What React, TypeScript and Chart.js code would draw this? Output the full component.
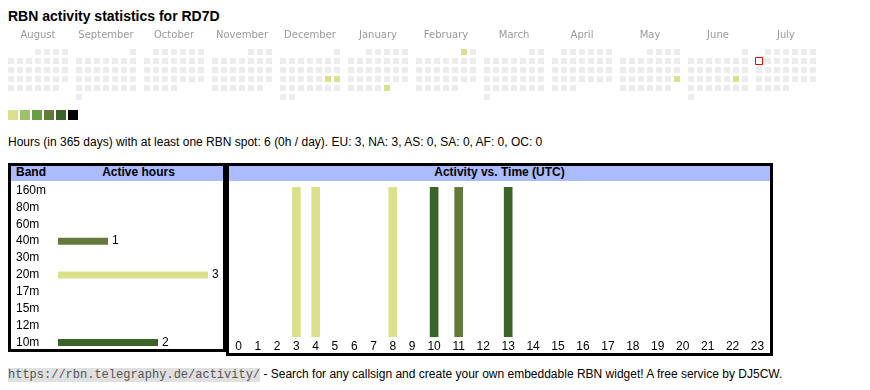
import React, { useEffect, useRef } from 'react';
import { Chart, registerables } from 'chart.js';

Chart.register(...registerables);

const FONT = '"Liberation Sans", Arial, Helvetica, sans-serif';
const MONO = '"Liberation Mono", "DejaVu Sans Mono", monospace';

// ---------- data ----------
const CALLSIGN = 'RD7D';
const MONTH_NAMES = ['August', 'September', 'October', 'November', 'December', 'January', 'February', 'March', 'April', 'May', 'June', 'July'];
const MONTH_YEARS = [2024, 2024, 2024, 2024, 2024, 2025, 2025, 2025, 2025, 2025, 2025, 2025];
const MONTH_NUMBERS = [8, 9, 10, 11, 12, 1, 2, 3, 4, 5, 6, 7];

const ACTIVE_DATES = ['2024-12-21', '2024-12-22', '2025-01-31', '2025-02-01', '2025-05-25', '2025-06-21'];
const ACTIVE_LEVELS = [1, 1, 1, 1, 1, 1];
const TODAY = '2025-07-07';
const LEVEL_COLORS = ['#dbe18b', '#9dc26a', '#6a9e45', '#647a3a', '#3b6428', '#000000'];
const EMPTY_COLOR = '#ececec';

const BANDS = ['160m', '80m', '60m', '40m', '30m', '20m', '17m', '15m', '12m', '10m'];
const BAND_HOURS = [0, 0, 0, 1, 0, 3, 0, 0, 0, 2];
const BAND_COLORS = ['#000000', '#3b6428', '#6a9e45', '#647a3a', '#9dc26a', '#dbe18b', '#6a9e45', '#9dc26a', '#647a3a', '#3b6428'];

const HOUR_LABELS = ['0', '1', '2', '3', '4', '5', '6', '7', '8', '9', '10', '11', '12', '13', '14', '15', '16', '17', '18', '19', '20', '21', '22', '23'];
const ACTIVE_HOURS = [3, 4, 8, 10, 11, 13];
const ACTIVE_HOUR_BANDS = ['20m', '20m', '20m', '10m', '40m', '10m'];

const DAYS = 365;
const TOTAL_HOURS = 6;
const CONTINENTS = ['EU', 'NA', 'AS', 'SA', 'AF', 'OC'];
const CONTINENT_HOURS = [3, 3, 0, 0, 0, 0];

// ---------- layout constants ----------
const CELL = 9;
const CELL_SIZE = 6;
const BLOCK = 68;

const statsText =
  `Hours (in ${DAYS} days) with at least one RBN spot: ${TOTAL_HOURS} (${Math.round(TOTAL_HOURS / DAYS)}h / day). ` +
  CONTINENTS.map((c, i) => `${c}: ${CONTINENT_HOURS[i]}`).join(', ');

const pad2 = (n: number) => String(n).padStart(2, '0');

function CalendarChart() {
  const ref = useRef<HTMLCanvasElement>(null);
  useEffect(() => {
    const W = 854, H = 74, AXIS_H = 21;
    const empty: any[] = [];
    const active: any[] = [];
    const activeColors: string[] = [];
    const today: any[] = [];
    MONTH_NAMES.forEach((_, m) => {
      const y = MONTH_YEARS[m];
      const mo = MONTH_NUMBERS[m];
      const first = (new Date(Date.UTC(y, mo - 1, 1)).getUTCDay() + 6) % 7;
      const days = new Date(Date.UTC(y, mo, 0)).getUTCDate();
      for (let d = 1; d <= days; d++) {
        const idx = first + d - 1;
        const pt = { x: m * BLOCK + (idx % 7) * CELL + CELL_SIZE / 2, y: Math.floor(idx / 7) * CELL + CELL_SIZE / 2 };
        const key = `${y}-${pad2(mo)}-${pad2(d)}`;
        const ai = ACTIVE_DATES.indexOf(key);
        if (key === TODAY) today.push(pt);
        else if (ai >= 0) {
          active.push(pt);
          activeColors.push(LEVEL_COLORS[ACTIVE_LEVELS[ai] - 1]);
        } else empty.push(pt);
      }
    });
    const blockCenter = (7 * CELL - (CELL - CELL_SIZE)) / 2;
    const chart = new Chart(ref.current!, {
      type: 'scatter',
      data: {
        datasets: [
          { data: today, pointStyle: 'rect', pointRadius: (CELL_SIZE + 1) / Math.SQRT2, pointHoverRadius: (CELL_SIZE + 1) / Math.SQRT2, backgroundColor: '#ffffff', borderColor: '#ff0000', borderWidth: 1 } as any,
          { data: active, pointStyle: 'rect', pointRadius: CELL_SIZE / Math.SQRT2, pointHoverRadius: CELL_SIZE / Math.SQRT2, backgroundColor: activeColors, borderWidth: 0 } as any,
          { data: empty, pointStyle: 'rect', pointRadius: CELL_SIZE / Math.SQRT2, pointHoverRadius: CELL_SIZE / Math.SQRT2, backgroundColor: EMPTY_COLOR, borderWidth: 0 } as any,
        ],
      },
      options: {
        responsive: false,
        animation: false,
        events: [],
        layout: { padding: 0, autoPadding: false },
        plugins: { legend: { display: false }, tooltip: { enabled: false } },
        scales: {
          x: {
            type: 'linear',
            position: 'top',
            min: 0,
            max: W,
            offset: false,
            grid: { display: false, drawTicks: false },
            border: { display: false },
            afterBuildTicks: (s: any) => {
              s.ticks = MONTH_NAMES.map((_, i) => ({ value: i * BLOCK + blockCenter }));
            },
            afterFit: (s: any) => {
              s.height = AXIS_H;
              s.paddingLeft = 0;
              s.paddingRight = 0;
            },
            ticks: {
              autoSkip: false,
              maxRotation: 0,
              padding: 8,
              color: '#999999',
              font: { family: '"DejaVu Sans", Verdana, sans-serif', size: 10 },
              callback: (_v: any, i: number) => MONTH_NAMES[i],
            },
          },
          y: { type: 'linear', display: false, min: 0, max: H - AXIS_H, reverse: true },
        },
      } as any,
    });
    return () => chart.destroy();
  }, []);
  return <canvas ref={ref} width={854} height={74} style={{ position: 'absolute', left: 8, top: 28 }} />;
}

const valueLabels = {
  id: 'valueLabels',
  afterDatasetsDraw(chart: any) {
    const ctx = chart.ctx;
    const meta = chart.getDatasetMeta(0);
    const vals = chart.data.datasets[0].data;
    ctx.save();
    ctx.font = `12px ${FONT}`;
    ctx.fillStyle = '#000';
    ctx.textBaseline = 'middle';
    ctx.textAlign = 'left';
    meta.data.forEach((bar: any, i: number) => {
      if (vals[i] > 0) ctx.fillText(String(vals[i]), bar.x + 4, bar.y);
    });
    ctx.restore();
  },
};

function BandChart() {
  const ref = useRef<HTMLCanvasElement>(null);
  useEffect(() => {
    const chart = new Chart(ref.current!, {
      type: 'bar',
      data: {
        labels: BANDS,
        datasets: [{ data: BAND_HOURS.map((v) => (v > 0 ? v : null)), backgroundColor: BAND_COLORS, barThickness: 7, inflateAmount: 0 } as any],
      },
      options: {
        indexAxis: 'y',
        responsive: false,
        animation: false,
        events: [],
        layout: { padding: { left: 5, right: 0, top: 0, bottom: 0 }, autoPadding: false },
        plugins: { legend: { display: false }, tooltip: { enabled: false } },
        scales: {
          x: { display: false, min: 0, max: Math.max(...BAND_HOURS) * 1.1 },
          y: {
            grid: { display: false, drawTicks: false },
            border: { display: false },
            afterFit: (s: any) => {
              s.width = 42;
              s.paddingTop = 0;
              s.paddingBottom = 0;
            },
            ticks: { autoSkip: false, crossAlign: 'far', padding: 0, color: '#000', font: { family: FONT, size: 12 } },
          },
        },
      } as any,
      plugins: [valueLabels],
    });
    return () => chart.destroy();
  }, []);
  return <canvas ref={ref} width={212} height={169} style={{ position: 'absolute', left: 0, top: 16 }} />;
}

function TimeChart() {
  const ref = useRef<HTMLCanvasElement>(null);
  useEffect(() => {
    const mctx = document.createElement('canvas').getContext('2d')!;
    mctx.font = `12px ${FONT}`;
    const widths = HOUR_LABELS.map((l) => mctx.measureText(l).width + 16);
    const centers: number[] = [];
    let acc = 0;
    widths.forEach((w) => {
      centers.push(acc + w / 2);
      acc += w;
    });
    const total = acc;
    const chart = new Chart(ref.current!, {
      type: 'bar',
      data: {
        datasets: [
          {
            data: ACTIVE_HOURS.map((h) => ({ x: centers[h], y: 1 })),
            backgroundColor: ACTIVE_HOUR_BANDS.map((b) => BAND_COLORS[BANDS.indexOf(b)]),
            barThickness: 8,
            grouped: false,
          } as any,
        ],
      },
      options: {
        responsive: false,
        animation: false,
        events: [],
        layout: { padding: { top: 6, left: 0, right: 0, bottom: 0 }, autoPadding: false },
        plugins: { legend: { display: false }, tooltip: { enabled: false } },
        scales: {
          x: {
            type: 'linear',
            offset: false,
            min: 0,
            max: total,
            grid: { display: false, drawTicks: false },
            border: { display: false },
            afterBuildTicks: (s: any) => {
              s.ticks = centers.map((c) => ({ value: c }));
            },
            afterFit: (s: any) => {
              s.height = 16;
              s.paddingLeft = 0;
              s.paddingRight = 0;
            },
            ticks: {
              autoSkip: false,
              maxRotation: 0,
              padding: 2,
              color: '#000',
              font: { family: FONT, size: 12 },
              callback: (_v: any, i: number) => HOUR_LABELS[i],
            },
          },
          y: { display: false, min: 0, max: 1 },
        },
      } as any,
    });
    return () => chart.destroy();
  }, []);
  return <canvas ref={ref} width={541} height={172} style={{ position: 'absolute', left: 0, top: 15 }} />;
}

const headerStyle: React.CSSProperties = {
  position: 'absolute',
  left: 0,
  top: 0,
  height: 15,
  background: '#aabbff',
};
const headerText: React.CSSProperties = {
  position: 'absolute',
  top: 0,
  fontSize: 12,
  fontWeight: 'bold',
  lineHeight: '13px',
  whiteSpace: 'nowrap',
};

export default function App() {
  return (
    <div style={{ position: 'absolute', left: 0, top: 0, width: 870, height: 390, fontFamily: FONT, color: '#000' }}>
      <div style={{ position: 'absolute', left: 8, top: 9, fontSize: 14, fontWeight: 'bold', lineHeight: '14px', whiteSpace: 'nowrap' }}>
        RBN activity statistics for {CALLSIGN}
      </div>
      <CalendarChart />
      {LEVEL_COLORS.map((c, i) => (
        <div key={c} style={{ position: 'absolute', left: 8 + 12 * i, top: 110, width: 10, height: 10, background: c }} />
      ))}
      <div style={{ position: 'absolute', left: 8, top: 136, fontSize: 12, lineHeight: '12px', whiteSpace: 'nowrap' }}>{statsText}</div>

      <div style={{ position: 'absolute', left: 8, top: 163, width: 218, height: 189, border: '3px solid #000', boxSizing: 'border-box' }}>
        <div style={{ ...headerStyle, width: 212 }}>
          <div style={{ ...headerText, left: 5 }}>Band</div>
          <div style={{ ...headerText, left: 40, width: 175, textAlign: 'center' }}>Active hours</div>
        </div>
        <BandChart />
      </div>

      <div style={{ position: 'absolute', left: 226, top: 163, width: 547, height: 193, border: '3px solid #000', boxSizing: 'border-box' }}>
        <div style={{ ...headerStyle, width: 541 }}>
          <div style={{ ...headerText, left: 0, width: 541, textAlign: 'center' }}>Activity vs. Time (UTC)</div>
        </div>
        <TimeChart />
      </div>

      <div style={{ position: 'absolute', left: 8, top: 367, fontSize: 12, lineHeight: '15px', whiteSpace: 'nowrap' }}>
        <span style={{ fontFamily: MONO, background: '#e0e0e0', color: '#555' }}>https://rbn.telegraphy.de/activity/</span>
        {' - Search for any callsign and create your own embeddable RBN widget! A free service by DJ5CW.'}
      </div>
    </div>
  );
}
